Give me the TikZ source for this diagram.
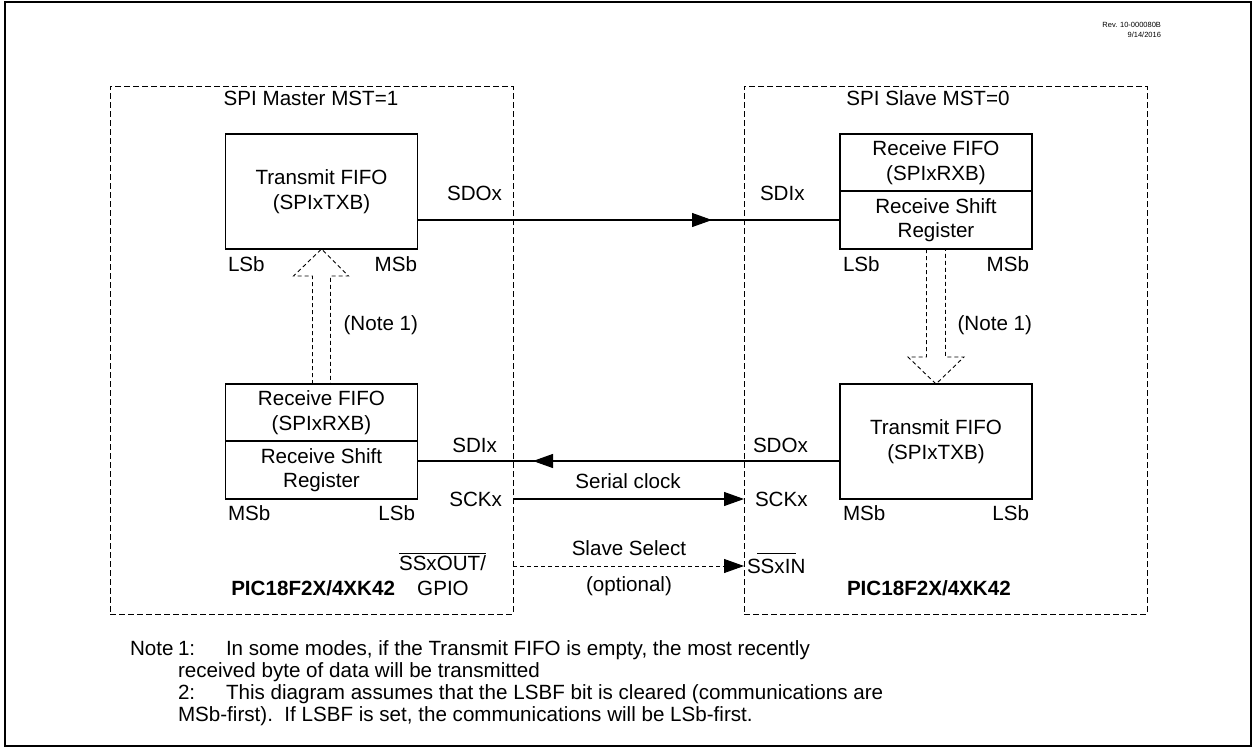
\documentclass[tikz,border=0pt]{standalone}
\usepackage{fontspec}
\setmainfont{Liberation Sans}
\usetikzlibrary{arrows.meta,decorations.markings}
\newcommand{\mainf}{\fontsize{20.6}{24.5}\selectfont}
\newcommand{\revf}{\fontsize{7.5}{10}\selectfont}
\begin{document}
\begin{tikzpicture}[x=1pt,y=-1pt,
  every node/.style={inner sep=0pt,outer sep=0pt,font=\mainf},
  grp/.style={draw,line width=0.9pt,dash pattern=on 6pt off 3pt},
  box/.style={draw,line width=1.1pt,minimum width=192pt,align=center},
  conn/.style={line width=1.1pt},
  tipend/.style={-{Triangle[length=20pt,width=14pt]}},
  midarrow/.style={postaction={decorate,decoration={markings,mark=at position #1 with {\arrow{Triangle[length=20pt,width=14pt]}}}}},
  hollow/.style={line width=0.9pt,dash pattern=on 4pt off 3pt},
  lw/.style={anchor=base west},
  le/.style={anchor=base east},
  lc/.style={anchor=base}]
\useasboundingbox (0,0) rectangle (1254,748);
\draw[line width=2.5pt] (5,2) rectangle (1251,746);
% revision
\node[le,font=\revf] (rev1) at (1161,27) {Rev. 10-000080B};
\node[le,font=\revf] (rev2) at (1161,37) {9/14/2016};
% groups
\node[grp,minimum width=403pt,minimum height=528pt] (master) at (311.5,350) {};
\node[grp,minimum width=403pt,minimum height=528pt] (slave) at (945.5,350) {};
\node[lc] (mtitle) at (311,105) {SPI Master MST=1};
\node[lc] (stitle) at (928,105) {SPI Slave MST=0};
% master boxes
\node[box,minimum height=115pt] (txL) at (321.5,191.5) {Transmit FIFO\\(SPIxTXB)};
\node[box,minimum height=57pt] (rxLa) at (321.5,412.5) {Receive FIFO\\(SPIxRXB)};
\node[box,minimum height=58pt] (rxLb) at (321.5,470) {Receive Shift\\Register};
% slave boxes
\node[box,minimum height=57pt] (rxRa) at (936,162.5) {Receive FIFO\\(SPIxRXB)};
\node[box,minimum height=58pt] (rxRb) at (936,220) {Receive Shift\\Register};
\node[box,minimum height=115pt] (txR) at (936,441.5) {Transmit FIFO\\(SPIxTXB)};
% bit labels
\node[lw] (l1) at (228,271) {LSb};
\node[le] (m1) at (417,271) {MSb};
\node[lw] (m2) at (228,520) {MSb};
\node[le] (l2) at (415,520) {LSb};
\node[lw] (l3) at (843,271) {LSb};
\node[le] (m3) at (1029,271) {MSb};
\node[lw] (m4) at (843,520) {MSb};
\node[le] (l4) at (1029,520) {LSb};
% hollow arrows
\draw[hollow] ([xshift=-9pt]rxLa.north) -- ([xshift=-9pt,yshift=-27pt]txL.south)
  -- ([xshift=-28pt,yshift=-27pt]txL.south) -- (txL.south)
  -- ([xshift=27pt,yshift=-27pt]txL.south) -- ([xshift=9pt,yshift=-27pt]txL.south)
  -- ([xshift=9pt]rxLa.north);
\draw[hollow] ([xshift=-9.5pt]rxRb.south) -- ([xshift=-9.5pt,yshift=27pt]txR.north)
  -- ([xshift=-28pt,yshift=27pt]txR.north) -- (txR.north)
  -- ([xshift=28pt,yshift=27pt]txR.north) -- ([xshift=9.5pt,yshift=27pt]txR.north)
  -- ([xshift=9.5pt]rxRb.south);
\node[le] (note1L) at (418,330) {(Note 1)};
\node[le] (note1R) at (1032,330) {(Note 1)};
% connectors
\draw[conn,midarrow=294.5pt] ([yshift=-28.5pt]txL.east) -- (rxRb.west);
\draw[conn,midarrow=307pt] ([yshift=-19.5pt]txR.west) -- ([yshift=9pt]rxLb.east);
\draw[conn,tipend] ([yshift=-149pt]master.east) -- ([yshift=-149pt]slave.west);
\draw[conn,tipend,line width=0.9pt,dash pattern=on 4pt off 3pt] ([yshift=-216pt]master.east) -- ([yshift=-216pt]slave.west);
% signal labels
\node[le] (sdoL) at (502,200) {SDOx};
\node[lw] (sdiR) at (760,200) {SDIx};
\node[le] (sdiL) at (497,452) {SDIx};
\node[lw] (sdoR) at (753,452) {SDOx};
\node[le] (sckL) at (502,506) {SCKx};
\node[lw] (sckR) at (755,506) {SCKx};
\node[lc] (sclk) at (628,488) {Serial clock};
\node[lc] (ssel) at (629,555) {Slave Select};
\node[lc] (sopt) at (629,591) {(optional)};
\node[lc] (ssout) at (442.5,570) {$\overline{\mbox{SSxOUT/}}$};
\node[lc] (gpio) at (443,595) {GPIO};
\node[lw] (ssin) at (747,573) {SSxIN};
\draw[line width=0.9pt] (757,553) -- (796,553);
\node[le,font=\mainf\bfseries] (picL) at (395,595) {PIC18F2X/4XK42};
\node[lw,font=\mainf\bfseries] (picR) at (847,595) {PIC18F2X/4XK42};
% notes
\node[lw] (n0) at (130,655) {Note};
\node[lw] (n1) at (178,655) {1:};
\node[lw] (n1t) at (226,655) {In some modes, if the Transmit FIFO is empty, the most recently};
\node[lw] (n1b) at (178,677) {received byte of data will be transmitted};
\node[lw] (n2) at (178,699) {2:};
\node[lw] (n2t) at (226,699) {This diagram assumes that the LSBF bit is cleared (communications are};
\node[lw] (n2b) at (178,721) {MSb-first).\ \ If LSBF is set, the communications will be LSb-first.};
\end{tikzpicture}
\end{document}
